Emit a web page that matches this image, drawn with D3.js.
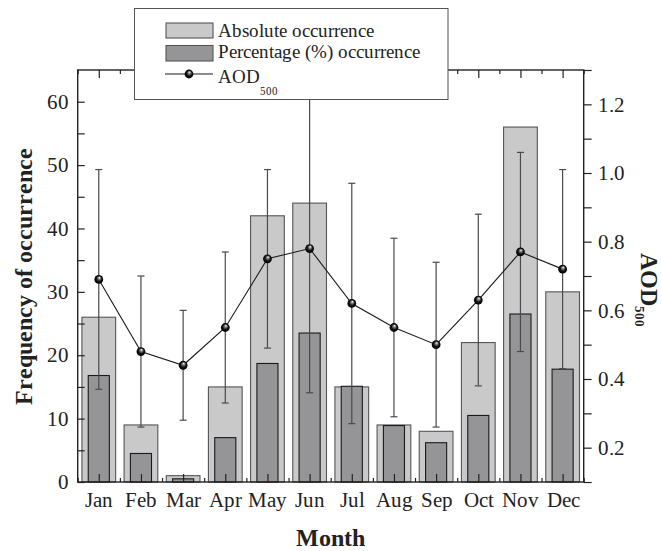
<!DOCTYPE html>
<html>
<head>
<meta charset="utf-8">
<script src="https://cdn.jsdelivr.net/npm/d3@7"></script>
<style>
  @font-face { font-family: "ChartSerif"; font-weight: 400; src: local("Liberation Serif"), local("LiberationSerif"), local("LiberationSerif-Regular"); }
  @font-face { font-family: "ChartSerif"; font-weight: 700; src: local("Liberation Serif Bold"), local("LiberationSerif-Bold"); }
  body { margin: 0; background: #fff; }
</style>
</head>
<body>
<div id="chart"></div>
<script>
// monthly data
const months = ["Jan","Feb","Mar","Apr","May","Jun","Jul","Aug","Sep","Oct","Nov","Dec"];
const absolute = [26, 9, 1, 15, 42, 44, 15, 9, 8, 22, 56, 30];
const percentage = [16.8, 4.5, 0.5, 7.0, 18.7, 23.5, 15.1, 8.9, 6.2, 10.5, 26.5, 17.8];
const aod = [0.69, 0.48, 0.44, 0.55, 0.75, 0.78, 0.62, 0.55, 0.50, 0.63, 0.77, 0.72];
const aodHigh = [1.01, 0.70, 0.60, 0.77, 1.01, 1.29, 0.97, 0.81, 0.74, 0.88, 1.06, 1.01];
const aodLow = [0.37, 0.26, 0.28, 0.33, 0.49, 0.36, 0.27, 0.29, 0.26, 0.38, 0.48, 0.43];
const leftTicks = [0, 10, 20, 30, 40, 50, 60];
const rightTicks = [0.2, 0.4, 0.6, 0.8, 1.0, 1.2];

const width = 662, height = 551;
const plotL = 77.7, plotR = 583.7, plotT = 70, plotB = 482;
const serif = "ChartSerif, 'Liberation Serif'";

const svg = d3.select("#chart").append("svg")
  .attr("width", width)
  .attr("height", height)
  .style("font-family", serif);

const defs = svg.append("defs");
const grad = defs.append("radialGradient")
  .attr("id", "ball")
  .attr("cx", "50%").attr("cy", "50%").attr("r", "50%")
  .attr("fx", "58%").attr("fy", "28%");
grad.append("stop").attr("offset", "0%").attr("stop-color", "#ffffff");
grad.append("stop").attr("offset", "22%").attr("stop-color", "#9a9a9a");
grad.append("stop").attr("offset", "60%").attr("stop-color", "#151515");
grad.append("stop").attr("offset", "100%").attr("stop-color", "#000");

const x = d3.scaleLinear().domain([0.5, 12.5]).range([plotL, plotR]);
const yL = d3.scaleLinear().domain([0, 65]).range([plotB, plotT]);
const yR = d3.scaleLinear().domain([0.1, 1.3]).range([plotB, plotT]);
const step = x(2) - x(1);

const idx = d3.range(months.length);

// bars
svg.append("g").selectAll("rect")
  .data(idx).enter().append("rect")
  .attr("x", i => x(i + 1) - step * 0.4)
  .attr("width", step * 0.8)
  .attr("y", i => yL(absolute[i]))
  .attr("height", i => yL(0) - yL(absolute[i]))
  .attr("fill", "#c9c9c9")
  .attr("stroke", "#555")
  .attr("stroke-width", 1.1);

svg.append("g").selectAll("rect")
  .data(idx).enter().append("rect")
  .attr("x", i => x(i + 1) - step * 0.25)
  .attr("width", step * 0.5)
  .attr("y", i => yL(percentage[i]))
  .attr("height", i => yL(0) - yL(percentage[i]))
  .attr("fill", "#959598")
  .attr("stroke", "#1a1a1a")
  .attr("stroke-width", 1.1);

// error bars
const eb = svg.append("g").attr("stroke", "#4a4a4a").attr("stroke-width", 1.2);
idx.forEach(i => {
  const cx = x(i + 1);
  eb.append("line").attr("x1", cx).attr("x2", cx)
    .attr("y1", yR(aodLow[i])).attr("y2", yR(aodHigh[i]));
  eb.append("line").attr("x1", cx - 3.5).attr("x2", cx + 3.5)
    .attr("y1", yR(aodLow[i])).attr("y2", yR(aodLow[i]));
  eb.append("line").attr("x1", cx - 3.5).attr("x2", cx + 3.5)
    .attr("y1", yR(aodHigh[i])).attr("y2", yR(aodHigh[i]));
});

// AOD line + markers
const line = d3.line().x((d, i) => x(i + 1)).y(d => yR(d));
svg.append("path")
  .datum(aod)
  .attr("d", line)
  .attr("fill", "none")
  .attr("stroke", "#1a1a1a")
  .attr("stroke-width", 1.1);

svg.append("g").selectAll("circle")
  .data(aod).enter().append("circle")
  .attr("cx", (d, i) => x(i + 1))
  .attr("cy", d => yR(d))
  .attr("r", 4.4)
  .attr("fill", "url(#ball)");

// axes
const axisColor = "#222";
function styleAxis(g) {
  g.attr("font-family", null).attr("font-size", null);
  g.select(".domain").remove();
  g.selectAll(".tick line").attr("stroke", axisColor).attr("stroke-width", 1.2);
  g.selectAll(".tick text")
    .style("font-family", serif)
    .style("font-size", "21px")
    .attr("fill", "#222");
}

svg.append("g").attr("transform", `translate(${plotL},0)`)
  .call(d3.axisLeft(yL).tickValues(d3.range(0, 61, 5)).tickSize(-7).tickPadding(9)
    .tickFormat(d => leftTicks.includes(d) ? d : ""))
  .call(styleAxis);

svg.append("g").attr("transform", `translate(${plotR},0)`)
  .call(d3.axisRight(yR).tickValues(d3.range(1, 14).map(v => v / 10)).tickSize(8).tickPadding(6.6)
    .tickFormat(d => rightTicks.some(t => Math.abs(t - d) < 1e-6) ? d3.format(".1f")(d) : ""))
  .call(styleAxis);

svg.append("g").attr("transform", `translate(0,${plotB})`)
  .call(d3.axisBottom(x).tickValues(d3.range(1, 13)).tickSize(-8).tickPadding(9.7)
    .tickFormat(d => months[d - 1]))
  .call(styleAxis);

svg.append("g").attr("transform", `translate(0,${plotB})`)
  .call(d3.axisBottom(x).tickValues(d3.range(0.5, 13, 1)).tickSize(-4).tickFormat(""))
  .call(styleAxis);

svg.append("g").attr("transform", `translate(0,${plotT})`)
  .call(d3.axisTop(x).tickValues(d3.range(1, 13)).tickSize(-8).tickFormat(""))
  .call(styleAxis);

svg.append("g").attr("transform", `translate(0,${plotT})`)
  .call(d3.axisTop(x).tickValues(d3.range(0.5, 13, 1)).tickSize(-4).tickFormat(""))
  .call(styleAxis);

svg.append("rect")
  .attr("x", plotL).attr("y", plotT)
  .attr("width", plotR - plotL).attr("height", plotB - plotT)
  .attr("fill", "none")
  .attr("stroke", axisColor)
  .attr("stroke-width", 1.4);

// axis titles
function title(sel) {
  return sel.style("font-family", serif).style("font-size", "23.5px")
    .style("font-weight", "bold").attr("fill", "#222");
}

svg.append("text")
  .attr("x", (plotL + plotR) / 2).attr("y", 546)
  .attr("text-anchor", "middle")
  .call(title)
  .text("Month");

svg.append("text")
  .attr("transform", `translate(32,${(plotT + plotB) / 2}) rotate(-90)`)
  .attr("text-anchor", "middle")
  .call(title)
  .text("Frequency of occurrence");

const rt = svg.append("text")
  .attr("transform", `translate(641,290) rotate(90)`)
  .attr("text-anchor", "middle")
  .call(title);
rt.append("tspan").text("AOD");
rt.append("tspan").style("font-size", "13px").attr("dy", 6).text("500");

// legend
const lg = svg.append("g");
lg.append("rect")
  .attr("x", 134.5).attr("y", 8.5).attr("width", 313.5).attr("height", 91)
  .attr("fill", "#fff").attr("stroke", "#555").attr("stroke-width", 1);
lg.append("rect").attr("x", 166).attr("y", 23).attr("width", 47).attr("height", 15)
  .attr("fill", "#c9c9c9").attr("stroke", "#555").attr("stroke-width", 1.1);
lg.append("rect").attr("x", 166).attr("y", 45.5).attr("width", 47).attr("height", 15.5)
  .attr("fill", "#959598").attr("stroke", "#555").attr("stroke-width", 1.1);
lg.append("line").attr("x1", 165).attr("x2", 213).attr("y1", 74).attr("y2", 74)
  .attr("stroke", "#1a1a1a").attr("stroke-width", 1.1);
lg.append("circle").attr("cx", 189).attr("cy", 74).attr("r", 4.4).attr("fill", "url(#ball)");

function legendText(sel) {
  return sel.style("font-family", serif).style("font-size", "18.5px").attr("fill", "#222");
}
lg.append("text").attr("x", 217.5).attr("y", 37).call(legendText).text("Absolute occurrence");
lg.append("text").attr("x", 217.5).attr("y", 57.5).call(legendText).text("Percentage (%) occurrence");
const la = lg.append("text").attr("x", 217.5).attr("y", 83).call(legendText);
la.append("tspan").text("AOD");
la.append("tspan").style("font-size", "11px").attr("dy", 12).text("500");
</script>
</body>
</html>
